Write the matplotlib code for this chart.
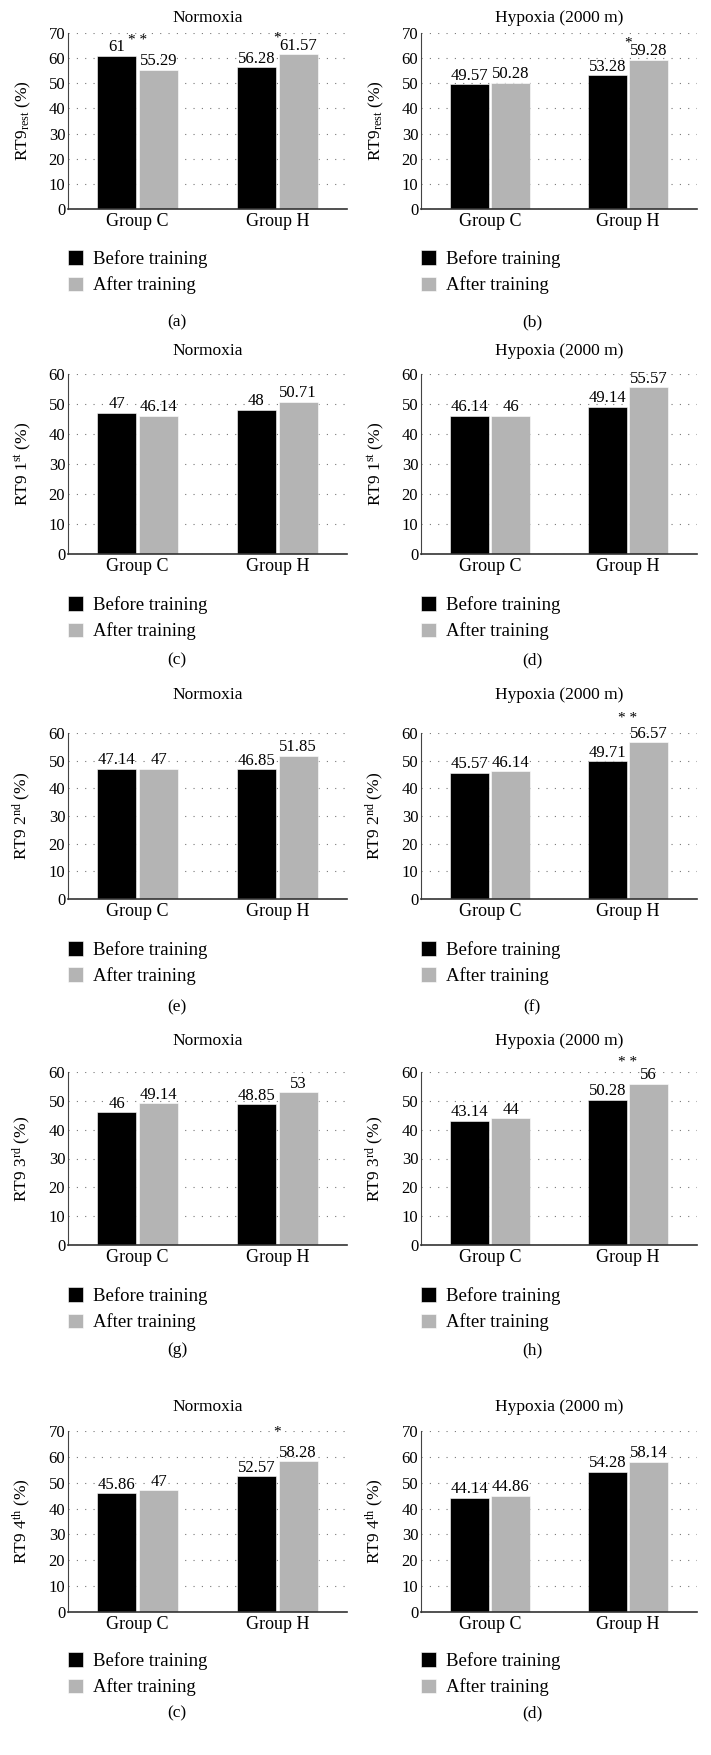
import matplotlib
matplotlib.use('Agg')
import matplotlib.pyplot as plt
import numpy as np

plt.rcParams['font.family'] = ['Liberation Serif', 'DejaVu Serif']
plt.rcParams['mathtext.fontset'] = 'custom'
plt.rcParams['mathtext.rm'] = 'Liberation Serif'
plt.rcParams['mathtext.it'] = 'Liberation Serif:italic'

# donnees
groups = ['Group C', 'Group H']
series_names = ['Before training', 'After training']
titles = ['Normoxia', 'Hypoxia (2000 m)'] * 5
ylabels = [r'RT9$_{\rm rest}$ (%)'] * 2 + [r'RT9 1$^{\rm st}$ (%)'] * 2 + \
          [r'RT9 2$^{\rm nd}$ (%)'] * 2 + [r'RT9 3$^{\rm rd}$ (%)'] * 2 + \
          [r'RT9 4$^{\rm th}$ (%)'] * 2
letters = ['(a)', '(b)', '(c)', '(d)', '(e)', '(f)', '(g)', '(h)', '(c)', '(d)']
before = [[61, 56.28], [49.57, 53.28],
          [47, 48], [46.14, 49.14],
          [47.14, 46.85], [45.57, 49.71],
          [46, 48.85], [43.14, 50.28],
          [45.86, 52.57], [44.14, 54.28]]
after = [[55.29, 61.57], [50.28, 59.28],
         [46.14, 50.71], [46, 55.57],
         [47, 51.85], [46.14, 56.57],
         [49.14, 53], [44, 56],
         [47, 58.28], [44.86, 58.14]]
ymax = [70, 60, 60, 60, 70]
# (panel, groupe, texte, y)
stars = [(0, 0, '* *', 67.2), (0, 1, '*', 68.0), (1, 1, '*', 66.0),
         (5, 1, '* *', 65.4), (7, 1, '* *', 63.4), (8, 1, '*', 69.6)]

# mise en page (pixels)
W, H = 711, 1755
row_top = [33, 374, 733, 1072, 1431]
row_bot = [209, 554, 899, 1245, 1612]
title_y = [18, 351, 695, 1041, 1407]
legend_y = [261, 607, 952, 1298, 1663]
letter_y = [322, 660, 1007, 1350, 1713]
col_left = [68, 421]
col_right = [347, 697]
letter_x = [177, 532]

black = '#000000'
grey = '#b4b4b4'

fig = plt.figure(figsize=(W / 100, H / 100), dpi=100)

for k in range(10):
    r, c = divmod(k, 2)
    left = col_left[c] / W
    width = (col_right[c] - col_left[c]) / W
    bottom = 1 - row_bot[r] / H
    height = (row_bot[r] - row_top[r]) / H
    ax = fig.add_axes([left, bottom, width, height])

    x = np.arange(len(groups))
    w = 0.28
    b1 = ax.bar(x - 0.15, before[k], w, color=black, edgecolor='white', linewidth=0.4)
    b2 = ax.bar(x + 0.15, after[k], w, color=grey, edgecolor='white', linewidth=0.4)

    for bars, vals in ((b1, before[k]), (b2, after[k])):
        for rect, v in zip(bars, vals):
            ax.text(rect.get_x() + rect.get_width() / 2, v + 0.2, f'{v:g}',
                    ha='center', va='bottom', fontsize=12)

    for (p, g, s, yv) in stars:
        if p == k:
            ax.text(x[g], yv, s, ha='center', va='center', fontsize=11, clip_on=False)

    ax.set_xlim(-0.5, 1.5)
    ax.set_ylim(0, ymax[r])
    ax.set_yticks(np.arange(0, ymax[r] + 1, 10))
    ax.set_xticks(x)
    ax.set_xticklabels(groups, fontsize=13)
    ax.tick_params(axis='y', length=0, pad=2, labelsize=12)
    ax.tick_params(axis='x', length=0, pad=3)
    ax.yaxis.grid(True, linestyle=(0, (1, 6.5)), color='#777777', linewidth=0.8)
    ax.set_axisbelow(True)
    for s in ('top', 'right'):
        ax.spines[s].set_visible(False)
    ax.spines['left'].set_color('#444444')
    ax.spines['left'].set_linewidth(0.8)
    ax.spines['bottom'].set_color('#333333')
    ax.spines['bottom'].set_linewidth(1.2)
    ax.set_ylabel(ylabels[k], fontsize=12.5)
    ax.yaxis.set_label_coords(-0.125, 0.5)

    fig.text((col_left[c] + col_right[c]) / 2 / W, 1 - title_y[r] / H, titles[k],
             ha='center', va='center', fontsize=12.5)

    ax.legend([b1, b2], series_names, loc='upper left',
              bbox_to_anchor=(left, 1 - (legend_y[r] - 11) / H),
              bbox_transform=fig.transFigure, frameon=False, fontsize=13.5,
              borderpad=0, borderaxespad=0, handlelength=0.8, handleheight=0.8,
              handletextpad=0.55, labelspacing=0.45)

    fig.text(letter_x[c] / W, 1 - letter_y[r] / H, letters[k],
             ha='center', va='center', fontsize=12.5)

fig.savefig('out.png', dpi=100)
